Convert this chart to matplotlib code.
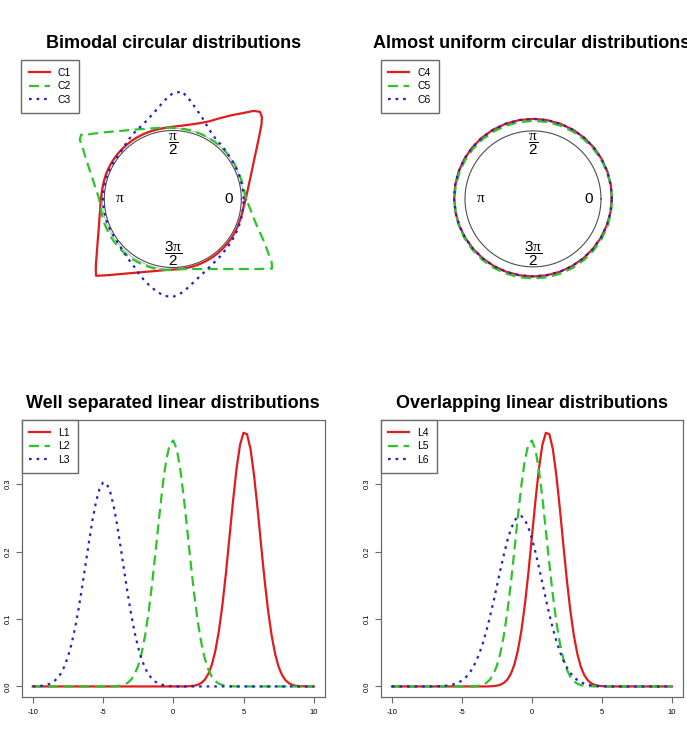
import numpy as np
import matplotlib
matplotlib.use('Agg')
import matplotlib.pyplot as plt
from matplotlib.lines import Line2D

plt.rcParams['font.family'] = ['Liberation Sans', 'DejaVu Sans']
plt.rcParams['mathtext.fontset'] = 'custom'
plt.rcParams['mathtext.rm'] = 'Liberation Sans'
plt.rcParams['mathtext.it'] = 'Liberation Serif'
plt.rcParams['mathtext.bf'] = 'Liberation Sans:bold'
plt.rcParams['axes.unicode_minus'] = False

# ---------------- data ----------------
# circular densities (drawn outside the unit circle); angles in degrees
C1_deg = np.sort(np.r_[np.arange(0, 360, 5), [42.5, 47.5, 222.5, 227.5]])
C1 = [0.065, 0.09, 0.124, 0.17, 0.23, 0.306, 0.404, 0.53, 0.69, 0.765, 0.80, 0.745,
      0.646, 0.492, 0.36, 0.25, 0.18, 0.13, 0.095, 0.07, 0.055, 0.047, 0.042,
      0.04, 0.04, 0.04, 0.04, 0.04, 0.04, 0.04, 0.04, 0.04, 0.04, 0.04, 0.04, 0.04, 0.04,
      0.043, 0.05, 0.062, 0.08, 0.109, 0.148, 0.2, 0.268, 0.353, 0.464, 0.525, 0.585,
      0.515, 0.45, 0.338, 0.251, 0.183, 0.131, 0.091, 0.061, 0.04, 0.03,
      0.028, 0.028, 0.028, 0.028, 0.028, 0.028, 0.028, 0.028, 0.028, 0.028, 0.028,
      0.028, 0.028, 0.028, 0.03, 0.035, 0.045]
C2_deg = np.sort(np.r_[np.arange(0, 360, 5), [142.5, 147.5, 322.5, 327.5]])
C2 = [0.07, 0.055, 0.045, 0.04,
      0.035, 0.035, 0.035, 0.035, 0.035, 0.035, 0.035, 0.035, 0.035, 0.035, 0.035,
      0.035, 0.035, 0.035,
      0.04, 0.045, 0.055, 0.07, 0.09, 0.125, 0.168, 0.22, 0.29, 0.38, 0.489, 0.55,
      0.635, 0.61, 0.525, 0.40, 0.299, 0.22, 0.159, 0.11, 0.076, 0.065,
      0.06, 0.06, 0.06, 0.06, 0.06, 0.06, 0.06, 0.06, 0.06, 0.06,
      0.055, 0.055, 0.05, 0.05, 0.045, 0.04, 0.035, 0.03, 0.04, 0.058, 0.087, 0.128,
      0.18, 0.248, 0.334, 0.445, 0.59, 0.675, 0.77, 0.71, 0.617, 0.47, 0.337, 0.24,
      0.17, 0.115]
C3_deg = np.arange(0, 360, 5)
C3 = [0.035, 0.033, 0.03, 0.028, 0.027, 0.027, 0.028, 0.032, 0.04, 0.05, 0.063, 0.082,
      0.12, 0.18, 0.26, 0.35, 0.46, 0.575, 0.545, 0.44, 0.33, 0.25, 0.19, 0.15,
      0.12, 0.09, 0.06, 0.035, 0.02, 0.018, 0.018, 0.018, 0.018, 0.018, 0.018, 0.018,
      0.018, 0.018, 0.018, 0.018, 0.018, 0.018, 0.018, 0.018, 0.03, 0.045, 0.07, 0.1,
      0.135, 0.19, 0.25, 0.31, 0.37, 0.42, 0.43, 0.38, 0.31, 0.24, 0.19, 0.15,
      0.12, 0.1, 0.085, 0.07, 0.06, 0.055, 0.05, 0.045, 0.04, 0.038, 0.036, 0.035]

# almost uniform circular densities, every 10 degrees
C46_deg = np.arange(0, 360, 10)
C4 = [0.159, 0.162, 0.165, 0.168, 0.171, 0.173, 0.175, 0.176, 0.177, 0.177, 0.177, 0.176,
      0.175, 0.173, 0.171, 0.168, 0.165, 0.162, 0.159, 0.156, 0.153, 0.150, 0.147, 0.145,
      0.143, 0.142, 0.141, 0.141, 0.141, 0.142, 0.143, 0.145, 0.147, 0.150, 0.153, 0.156]
C5 = [0.163, 0.161, 0.159, 0.157, 0.155, 0.153, 0.151, 0.150, 0.149, 0.148, 0.147, 0.147,
      0.147, 0.148, 0.149, 0.150, 0.151, 0.153, 0.155, 0.157, 0.159, 0.161, 0.163, 0.165,
      0.167, 0.168, 0.169, 0.170, 0.171, 0.171, 0.171, 0.170, 0.169, 0.168, 0.167, 0.165]
C6 = [0.160, 0.162, 0.165, 0.168, 0.170, 0.173, 0.175, 0.176, 0.177, 0.178, 0.177, 0.176,
      0.175, 0.174, 0.171, 0.169, 0.166, 0.162, 0.160, 0.157, 0.154, 0.150, 0.148, 0.145,
      0.144, 0.142, 0.141, 0.140, 0.141, 0.142, 0.143, 0.145, 0.147, 0.150, 0.153, 0.157]

# linear densities on a grid from -10 to 10, step 0.25
x_lin = np.linspace(-10, 10, 81)
L1 = [0, 0, 0, 0, 0, 0, 0, 0,
      0, 0, 0, 0, 0, 0, 0, 0,
      0, 0, 0, 0, 0, 0, 0, 0,
      0, 0, 0, 0, 0, 0, 0, 0,
      0, 0, 0, 0, 0, 0, 0, 0,
      0, 0, 0, 0, 0.0002, 0.0005, 0.0012, 0.0026,
      0.0052, 0.0102, 0.0187, 0.0324, 0.0531, 0.0825, 0.121, 0.168,
      0.221, 0.274, 0.322, 0.358, 0.376, 0.374, 0.352, 0.313,
      0.264, 0.210, 0.158, 0.1125, 0.0758, 0.0483, 0.0291, 0.0166,
      0.0090, 0.0046, 0.0022, 0.0010, 0.0004, 0.0002, 0, 0,
      0]
L2 = [0, 0, 0, 0, 0, 0, 0, 0,
      0, 0, 0, 0, 0, 0, 0, 0,
      0, 0, 0, 0, 0, 0, 0, 0.0002,
      0.0006, 0.0013, 0.0027, 0.0053, 0.0100, 0.0180, 0.0306, 0.0494,
      0.0759, 0.1106, 0.1531, 0.2013, 0.2514, 0.2981, 0.3357, 0.359,
      0.3646, 0.3517, 0.3221, 0.2802, 0.2315, 0.1816, 0.1353, 0.0957,
      0.0643, 0.0410, 0.0249, 0.0143, 0.0078, 0.0041, 0.0020, 0.0009,
      0.0004, 0.0002, 0, 0, 0, 0, 0, 0,
      0, 0, 0, 0, 0, 0, 0, 0,
      0, 0, 0, 0, 0, 0, 0, 0,
      0]
L3 = [0.0002, 0.0004, 0.0007, 0.0013, 0.0024, 0.0043, 0.0074, 0.0121,
      0.0192, 0.0295, 0.0435, 0.0621, 0.0855, 0.1135, 0.1454, 0.1796,
      0.2141, 0.2463, 0.2733, 0.2925, 0.3021, 0.3011, 0.2894, 0.2684,
      0.2402, 0.2073, 0.1726, 0.1387, 0.1075, 0.0804, 0.0580, 0.0404,
      0.0271, 0.0176, 0.0110, 0.0066, 0.0039, 0.0022, 0.0012, 0.0006,
      0.0003, 0.0001, 0, 0, 0, 0, 0, 0,
      0, 0, 0, 0, 0, 0, 0, 0,
      0, 0, 0, 0, 0, 0, 0, 0,
      0, 0, 0, 0, 0, 0, 0, 0,
      0, 0, 0, 0, 0, 0, 0, 0,
      0]
L4 = [0, 0, 0, 0, 0, 0, 0, 0,
      0, 0, 0, 0, 0, 0, 0, 0,
      0, 0, 0, 0, 0, 0, 0, 0,
      0, 0, 0, 0, 0.0002, 0.0005, 0.0012, 0.0026,
      0.0052, 0.0102, 0.0187, 0.0324, 0.0531, 0.0825, 0.121, 0.168,
      0.221, 0.274, 0.322, 0.358, 0.376, 0.374, 0.352, 0.313,
      0.264, 0.210, 0.158, 0.1125, 0.0758, 0.0483, 0.0291, 0.0166,
      0.0090, 0.0046, 0.0022, 0.0010, 0.0004, 0.0002, 0, 0,
      0, 0, 0, 0, 0, 0, 0, 0,
      0, 0, 0, 0, 0, 0, 0, 0,
      0]
L5 = [0, 0, 0, 0, 0, 0, 0, 0,
      0, 0, 0, 0, 0, 0, 0, 0,
      0, 0, 0, 0, 0, 0, 0, 0.0002,
      0.0006, 0.0013, 0.0027, 0.0053, 0.0100, 0.0180, 0.0306, 0.0494,
      0.0759, 0.1106, 0.1531, 0.2013, 0.2514, 0.2981, 0.3357, 0.359,
      0.3646, 0.3517, 0.3221, 0.2802, 0.2315, 0.1816, 0.1353, 0.0957,
      0.0643, 0.0410, 0.0249, 0.0143, 0.0078, 0.0041, 0.0020, 0.0009,
      0.0004, 0.0002, 0, 0, 0, 0, 0, 0,
      0, 0, 0, 0, 0, 0, 0, 0,
      0, 0, 0, 0, 0, 0, 0, 0,
      0]
L6 = [0, 0, 0, 0, 0, 0, 0, 0,
      0, 0, 0, 0, 0.0002, 0.0003, 0.0005, 0.0009,
      0.0014, 0.0023, 0.0037, 0.0058, 0.0088, 0.0130, 0.0188, 0.0265,
      0.0364, 0.0490, 0.0642, 0.0821, 0.1026, 0.1250, 0.1487, 0.1725,
      0.1954, 0.2160, 0.2330, 0.2452, 0.2519, 0.2525, 0.2470, 0.2358,
      0.2197, 0.1997, 0.1772, 0.1534, 0.1297, 0.1069, 0.0860, 0.0676,
      0.0518, 0.0387, 0.0283, 0.0201, 0.0140, 0.0095, 0.0063, 0.0041,
      0.0026, 0.0016, 0.0009, 0.0006, 0.0003, 0.0002, 0, 0,
      0, 0, 0, 0, 0, 0, 0, 0,
      0, 0, 0, 0, 0, 0, 0, 0,
      0]

x_ticks = [-10, -5, 0, 5, 10]
y_ticks = [0.0, 0.1, 0.2, 0.3]
y_tick_labels = ['0.0', '0.1', '0.2', '0.3']

titles = ['Bimodal circular distributions', 'Almost uniform circular distributions',
          'Well separated linear distributions', 'Overlapping linear distributions']

# ---------------- styles ----------------
RED = '#E01C1C'
GREEN = '#2BC42B'
BLUE = '#2424C4'
LS_SOLID = '-'
LS_DASH = (0, (4.5, 2.5))
LS_DOT = (0, (1.2, 2.2))
LW = 1.6
FRAME = '#6a6a6a'
W, H = 687.0, 743.0

fig = plt.figure(figsize=(6.87, 7.43), dpi=100)


def px_rect(x0, y0, x1, y1):
    return [x0 / W, 1 - y1 / H, (x1 - x0) / W, (y1 - y0) / H]


def legend_kw():
    return dict(fontsize=7.5, frameon=True, fancybox=False, framealpha=1,
                edgecolor=FRAME, handlelength=2.0, handletextpad=0.8,
                labelspacing=0.34, borderpad=0.74, borderaxespad=0)


def circ_panel(cx, cy, rpx, series, names, anchor, second_circle):
    ax = fig.add_axes(px_rect(cx - 2 * rpx, cy - 2 * rpx, cx + 2 * rpx, cy + 2 * rpx),
                      projection='polar')
    ax.set_ylim(0, 2)
    ax.set_axis_off()
    tc = np.linspace(0, 2 * np.pi, 721)
    ax.plot(tc, np.ones_like(tc), color='#4d4d4d', lw=0.8)
    if second_circle:
        ax.plot(tc, np.full_like(tc, 1.03), color='#aaaaaa', lw=0.6)
    handles = []
    for deg, vals, col, ls in series:
        th = np.deg2rad(np.append(deg, 360))
        v = np.asarray(vals)
        ax.plot(th, 1 + np.append(v, v[0]), color=col, ls=ls, lw=LW)
        handles.append(Line2D([], [], color=col, ls=ls, lw=LW))
    ax.text(0, 0.82, '0', ha='center', va='center', fontsize=11)
    ax.text(np.pi, 0.77, 'π', ha='center', va='center', fontsize=11,
            family='Liberation Serif')
    ax.text(np.pi / 2, 0.80, r'$\dfrac{\pi}{2}$', ha='center', va='center', fontsize=11)
    ax.text(3 * np.pi / 2, 0.80, r'$\dfrac{3\pi}{2}$', ha='center', va='center', fontsize=11)
    fig.legend(handles, names, loc='upper left',
               bbox_to_anchor=(anchor[0] / W, 1 - anchor[1] / H), **legend_kw())


def lin_panel(rect, series, names):
    ax = fig.add_axes(px_rect(*rect))
    handles = []
    for vals, col, ls in series:
        h, = ax.plot(x_lin, vals, color=col, ls=ls, lw=LW)
        handles.append(h)
    ax.set_xlim(-10.8, 10.8)
    ax.set_ylim(-0.0152, 0.395)
    ax.set_xticks(x_ticks)
    ax.set_yticks(y_ticks)
    ax.set_yticklabels(y_tick_labels)
    ax.tick_params(length=4, width=0.8, color=FRAME, labelsize=5.5)
    ax.tick_params(axis='x', pad=5)
    ax.tick_params(axis='y', labelrotation=90, pad=3)
    for lab in ax.get_yticklabels():
        lab.set_va('center')
    for s in ax.spines.values():
        s.set_color(FRAME)
        s.set_linewidth(0.9)
    ax.legend(handles, names, loc='upper left', **legend_kw())


circ_panel(172.8, 199.0, 68.5,
           [(C1_deg, C1, RED, LS_SOLID), (C2_deg, C2, GREEN, LS_DASH),
            (C3_deg, C3, BLUE, LS_DOT)],
           ['C1', 'C2', 'C3'], (21, 60), True)
circ_panel(533.0, 198.9, 68.0,
           [(C46_deg, C4, RED, LS_SOLID), (C46_deg, C5, GREEN, LS_DASH),
            (C46_deg, C6, BLUE, LS_DOT)],
           ['C4', 'C5', 'C6'], (380.7, 60), False)

lin_panel((21.5, 420, 325, 696.7),
          [(L1, RED, LS_SOLID), (L2, GREEN, LS_DASH), (L3, BLUE, LS_DOT)],
          ['L1', 'L2', 'L3'])
lin_panel((380.7, 420, 683, 696.7),
          [(L4, RED, LS_SOLID), (L5, GREEN, LS_DASH), (L6, BLUE, LS_DOT)],
          ['L4', 'L5', 'L6'])

for title, xc, yb in [(titles[0], 173.3, 48.3), (titles[1], 532.0, 48.3),
                      (titles[2], 173.0, 408.3), (titles[3], 532.0, 408.3)]:
    fig.text(xc / W, 1 - yb / H, title, ha='center', va='baseline',
             fontsize=13, fontweight='bold')

fig.savefig('out.png', dpi=100)
